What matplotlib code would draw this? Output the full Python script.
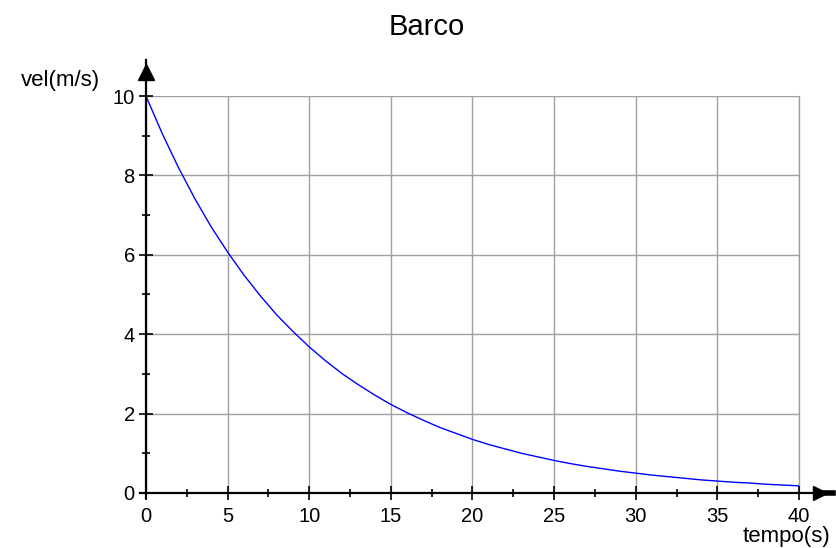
import matplotlib
matplotlib.use("Agg")
import matplotlib.pyplot as plt
from matplotlib.ticker import MultipleLocator

# velocity, every 1 s
tempo = list(range(0, 41))
vel = [10.00, 9.05, 8.19, 7.41, 6.70, 6.07, 5.49, 4.97, 4.49, 4.07,
       3.68, 3.33, 3.01, 2.73, 2.47, 2.23, 2.02, 1.83, 1.65, 1.50,
       1.35, 1.22, 1.11, 1.00, 0.91, 0.82, 0.74, 0.67, 0.61, 0.55,
       0.50, 0.45, 0.41, 0.37, 0.33, 0.30, 0.27, 0.25, 0.22, 0.20, 0.18]
x_ticks = [0, 5, 10, 15, 20, 25, 30, 35, 40]
y_ticks = [0, 2, 4, 6, 8, 10]

plt.rcParams['font.family'] = ['Liberation Sans', 'DejaVu Sans']

fig = plt.figure(figsize=(8.36, 5.48), dpi=100)
ax = fig.add_axes([0.1746, 0.1004, 0.7811, 0.7244])

ax.plot(tempo, vel, color='#0000ff', linewidth=1.0, zorder=3)

ax.set_xlim(0, 40)
ax.set_ylim(0, 10)
ax.set_xticks(x_ticks)
ax.set_yticks(y_ticks)
ax.xaxis.set_minor_locator(MultipleLocator(2.5))
ax.yaxis.set_minor_locator(MultipleLocator(1))
ax.grid(True, which='major', color='#a0a0a0', linewidth=1.0)
ax.axvline(40, color='#a0a0a0', linewidth=1.0, clip_on=False, zorder=1)

for s in ax.spines.values():
    s.set_visible(False)

ax.tick_params(which='major', direction='inout', length=10, width=1.2,
               labelsize=14.5, color='black', pad=3)
ax.tick_params(which='minor', direction='inout', length=6, width=1.2, color='black')
ax.tick_params(axis='x', pad=5)
ax.tick_params(top=False, right=False)

# axis lines with arrow heads
ax.plot([0, 0], [-0.13, 10.9], color='black', linewidth=1.6, clip_on=False, zorder=4)
ax.plot([-0.37, 41.2], [0, 0], color='black', linewidth=1.6, clip_on=False, zorder=4)
ax.plot([0], [10.6], marker='^', markersize=11, color='black', clip_on=False, zorder=5)
ax.plot([41.3], [0], marker='>', markersize=10, color='black', clip_on=False, zorder=5)
ax.plot([41.3, 42.1], [0, 0], color='black', linewidth=4, clip_on=False, zorder=5)

fig.text(0.511, 1 - 27 / 548, 'Barco', fontsize=21, ha='center', va='center')
ax.text(-2.8, 10.4, 'vel(m/s)', fontsize=16, ha='right', va='center')
ax.text(41.9, -1.1, 'tempo(s)', fontsize=16, ha='right', va='center')

fig.savefig('out.png', dpi=100)
